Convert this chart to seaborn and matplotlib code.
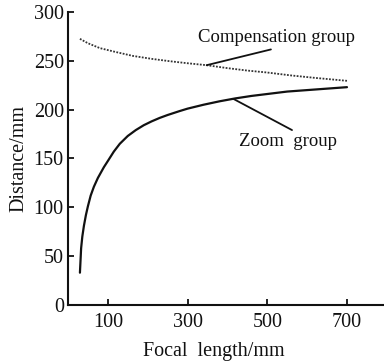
import numpy as np
import pandas as pd
import matplotlib
matplotlib.use("Agg")
import matplotlib.pyplot as plt
import seaborn as sns

# Data
zoom_f = [30, 33, 36, 40, 45, 50, 57, 65, 75, 90, 101, 115, 130, 150, 170, 190,
          210, 230, 250, 280, 300, 340, 380, 420, 460, 500, 550, 600, 650, 700]
zoom_d = [33, 58, 70, 81, 92, 101, 112, 121, 130, 141, 148, 157, 165, 173, 179, 184,
          188, 191.5, 194.5, 198.5, 201, 205, 208.5, 211.5, 214, 216, 218.5, 220, 221.5, 223]
comp_f = [30, 50, 80, 120, 163, 210, 257, 300, 348, 400, 450, 500, 560, 620, 700]
comp_d = [272.5, 268, 263, 259, 255, 252, 249.5, 247.5, 245.5, 242.5, 240, 238,
          235, 232.5, 229.5]
xticks = [100, 300, 500, 700]
yticks = [0, 50, 100, 150, 200, 250, 300]

sns.set_style("ticks")
plt.rcParams['font.family'] = ['Liberation Serif', 'DejaVu Serif']

fig = plt.figure(figsize=(3.84, 3.63), dpi=100)
ax = fig.add_axes([0.177, 0.160, 0.82, 0.807])

dz = pd.DataFrame({"f": zoom_f, "d": zoom_d})
dc = pd.DataFrame({"f": comp_f, "d": comp_d})
sns.lineplot(data=dz, x="f", y="d", ax=ax, color="#111111", lw=1.6, sort=True)
sns.lineplot(data=dc, x="f", y="d", ax=ax, color="#333333", lw=1.3,
             linestyle=(0, (1, 0.8)), sort=True)

ax.set_xlim(0, 790)
ax.set_ylim(0, 300)
ax.set_xticks(xticks)
ax.set_yticks(yticks)
ax.tick_params(direction="in", length=4, width=1.3, labelsize=14.5, colors="#111111")
ax.tick_params(axis="x", pad=6)
ax.tick_params(axis="y", pad=3)
for s in ["top", "right"]:
    ax.spines[s].set_visible(False)
for s in ["left", "bottom"]:
    ax.spines[s].set_linewidth(1.5)
    ax.spines[s].set_color("#111111")

ax.set_xlabel("Focal  length/mm", fontsize=14.5, labelpad=8, color="#111111")
ax.xaxis.set_label_coords(0.463, -0.128)
ax.set_ylabel("Distance/mm", fontsize=14.5, labelpad=4, color="#111111")

ax.annotate("Compensation group", xy=(348, 245.5), xytext=(523, 265),
            fontsize=13.5, ha="center", va="bottom", color="#111111",
            arrowprops=dict(arrowstyle="-", color="#111111", lw=1.3,
                            shrinkA=0, shrinkB=0,
                            relpos=(0.55, 0.0)))
ax.annotate("Zoom  group", xy=(415, 211), xytext=(553, 167),
            fontsize=13.5, ha="center", va="center", color="#111111",
            arrowprops=dict(arrowstyle="-", color="#111111", lw=1.3,
                            shrinkA=0, shrinkB=0,
                            relpos=(0.6, 1.0)))

fig.savefig("out.png", dpi=100)
